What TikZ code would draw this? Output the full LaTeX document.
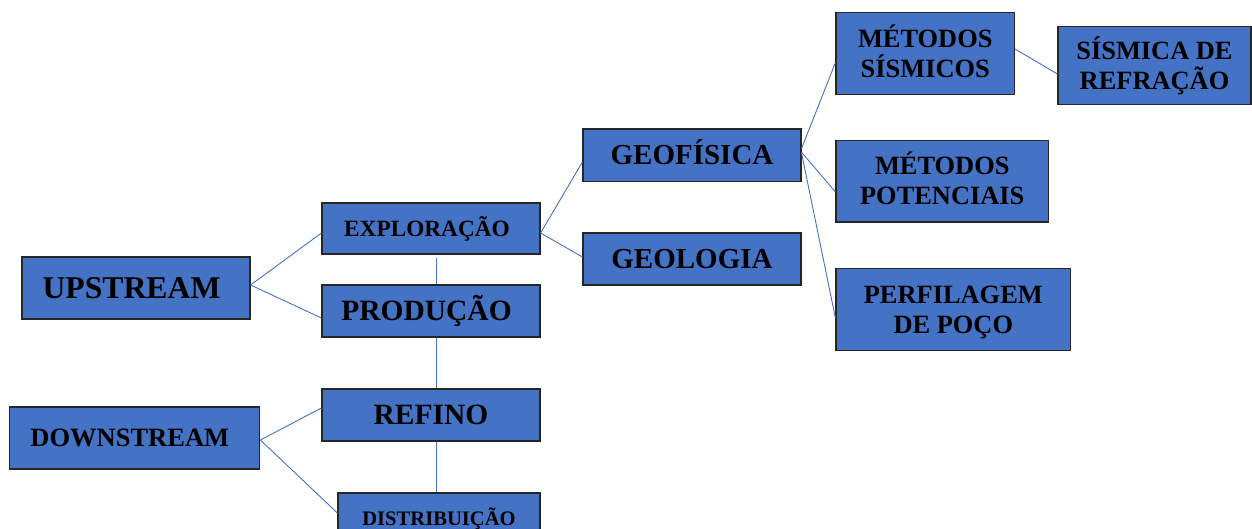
\documentclass[tikz,border=0pt]{standalone}
\usepackage{fontspec}
\setmainfont{Liberation Serif}
\usetikzlibrary{calc}
\definecolor{boxblue}{RGB}{68,114,196}
\begin{document}
\begin{tikzpicture}[x=1pt,y=-1pt,
  box/.style={draw=black!85, line width=1.2pt, fill=boxblue, inner sep=0pt,
    align=center, text depth=0pt},
  fs/.style={font=\bfseries\fontsize{#1}{30}\selectfont},
  link/.style={draw=boxblue, line width=0.9pt}]
\useasboundingbox (0,0) rectangle (1252,529);
\clip (0,0) rectangle (1252,529);
% left column
\node[box, fs=31.7, text height=20.8pt, minimum width=228pt, minimum height=62pt] (up) at (136,288) {UPSTREAM\kern9pt};
\node[box, fs=26.5, text height=17.4pt, minimum width=250pt, minimum height=62pt] (down) at (134.8,438) {DOWNSTREAM\kern10pt};
% middle column
\node[box, fs=23.3, text height=15.3pt, minimum width=218pt, minimum height=51pt] (expl) at (431,228.5) {EXPLORAÇÃO\kern8pt};
\node[box, fs=29.5, text height=19.3pt, minimum width=218pt, minimum height=52pt] (prod) at (431,311) {PRODUÇÃO\kern9pt};
\node[box, fs=29.5, text height=19.3pt, minimum width=218pt, minimum height=52pt] (ref) at (431,415) {REFINO};
\node[box, fs=20.6, text height=13.5pt, minimum width=202pt, minimum height=52pt] (dist) at (439,519) {DISTRIBUIÇÃO};
% geo column
\node[box, fs=29, text height=19pt, minimum width=218pt, minimum height=52.7pt] (geof) at (692,155.3) {GEOFÍSICA};
\node[box, fs=29, text height=19pt, minimum width=218pt, minimum height=52pt] (geol) at (692,259) {GEOLOGIA};
% methods column
\node[box, fs=26.4, text height=47.3pt, minimum width=178.5pt, minimum height=82pt] (ms) at (925.25,53.7) {MÉTODOS\\SÍSMICOS};
\node[box, fs=26.4, text height=47.3pt, minimum width=212.5pt, minimum height=81.3pt] (mp) at (942.25,181.35) {MÉTODOS\\POTENCIAIS};
\node[box, fs=26.4, text height=47.3pt, minimum width=234.6pt, minimum height=82pt] (perf) at (953.3,309.7) {PERFILAGEM\\DE POÇO};
\node[box, fs=26.4, text height=47.3pt, minimum width=193pt, minimum height=78pt] (sr) at (1154.5,65.7) {SÍSMICA DE\\REFRAÇÃO};
% connectors
\draw[link] ($(up.east)+(0,-3)$) -- ($(expl.west)+(0,4.5)$);
\draw[link] ($(up.east)+(0,-3)$) -- ($(prod.west)+(0,7)$);
\draw[link] ($(down.east)+(0,2)$) -- ($(ref.west)+(0,-7)$);
\draw[link] ($(down.east)+(0,2)$) -- ($(dist.west)+(0,-6)$);
\draw[link] ($(expl.east)+(0,4.5)$) -- ($(geof.west)+(0,6.7)$);
\draw[link] ($(expl.east)+(0,4.5)$) -- ($(geol.west)+(0,-2)$);
\draw[link] ($(geof.east)+(0,-7)$) -- ($(ms.west)+(0,9)$);
\draw[link] ($(geof.east)+(0,-3)$) -- ($(mp.west)+(0,10.6)$);
\draw[link] ($(geof.east)+(0,-2)$) -- ($(perf.west)+(0,8.3)$);
\draw[link] ($(ms.east)+(0,-4.7)$) -- ($(sr.west)+(0,8.3)$);
\draw[link] ($(expl.south)+(5,3.5)$) -- ($(prod.north)+(5,0)$);
\draw[link] ($(prod.south)+(5,0)$) -- ($(ref.north)+(5,0)$);
\draw[link] ($(ref.south)+(5,0)$) -- ($(dist.north)+(-3,0)$);
\end{tikzpicture}
\end{document}
